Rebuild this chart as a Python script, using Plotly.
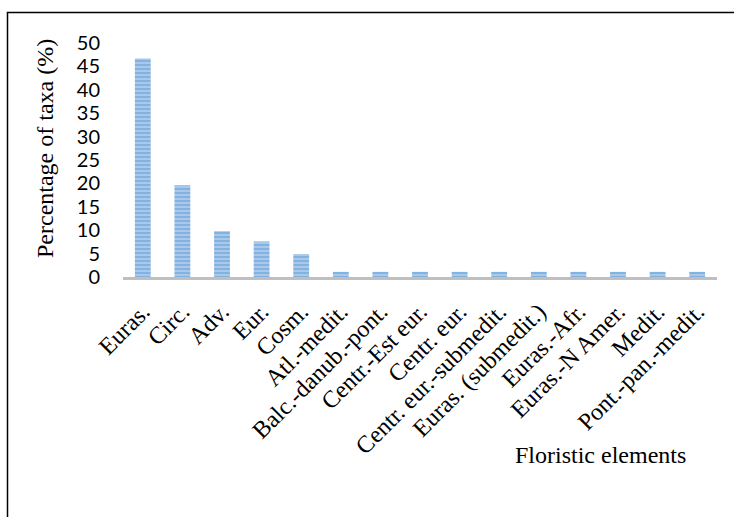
import plotly.graph_objects as go

categories = ["Euras.", "Circ.", "Adv.", "Eur.", "Cosm.", "Atl.-medit.",
              "Balc.-danub.-pont.", "Centr.-Est eur.", "Centr. eur.",
              "Centr. eur.-submedit.", "Euras. (submedit.)", "Euras.-Afr.",
              "Euras.-N Amer.", "Medit.", "Pont.-pan.-medit."]
values = [46.7, 19.6, 9.8, 7.6, 4.9, 1.1, 1.1, 1.1, 1.1, 1.1, 1.1, 1.1, 1.1, 1.1, 1.1]
y_ticks = [0, 5, 10, 15, 20, 25, 30, 35, 40, 45, 50]

W, H = 734, 517
L, R, T, B = 123, 17, 43, 240
pw = W - L - R
ph = H - T - B

fig = go.Figure()
fig.add_trace(go.Bar(
    x=categories, y=values,
    width=0.4,
    marker=dict(
        color="#A9C8EA",
        line=dict(width=0),
        pattern=dict(shape="-", fgcolor="#5B9BD5", bgcolor="#A9C8EA",
                     size=4, solidity=0.5, fillmode="overlay"),
    ),
))

fig.update_layout(
    width=W, height=H,
    margin=dict(l=L, r=R, t=T, b=B, autoexpand=False),
    paper_bgcolor="white", plot_bgcolor="white",
    showlegend=False,
    bargap=0.6,
    xaxis=dict(
        tickangle=-45, automargin=False,
        tickfont=dict(family="Liberation Serif", size=24, color="black"),
        showline=True, linecolor="#BFBFBF", linewidth=3,
        showgrid=False, ticks="", ticklen=0, ticklabelstandoff=8,
        title=None,
    ),
    yaxis=dict(
        range=[0, 50], tickvals=y_ticks, automargin=False,
        tickfont=dict(family="Lato", size=20, color="black"),
        showgrid=False, zeroline=False, showline=False,
        ticks="", ticklabelstandoff=22,
        title=None,
    ),
    annotations=[
        dict(
            text="Percentage of taxa (%)", xref="paper", yref="paper",
            x=(45 - L) / pw, y=(T + ph - 148) / ph, textangle=-90,
            xanchor="center", yanchor="middle", showarrow=False,
            font=dict(family="Liberation Serif", size=24, color="black"),
        ),
        dict(
            text="Floristic elements", xref="paper", yref="paper",
            x=(600 - L) / pw, y=(T + ph - 455) / ph,
            xanchor="center", yanchor="middle", showarrow=False,
            font=dict(family="Liberation Serif", size=24, color="black"),
        ),
    ],
    shapes=[dict(
        type="rect", xref="paper", yref="paper",
        x0=(7.5 - L) / pw, x1=(W + 20 - L) / pw,
        y0=(T + ph - (H + 20)) / ph, y1=(T + ph - 12.5) / ph,
        line=dict(color="black", width=1.5), fillcolor="rgba(0,0,0,0)",
        layer="below",
    )],
)

fig.write_html(
    "out.html",
    config={"displayModeBar": False},
    post_script="document.body.style.margin='0';document.body.style.overflow='hidden';",
)
